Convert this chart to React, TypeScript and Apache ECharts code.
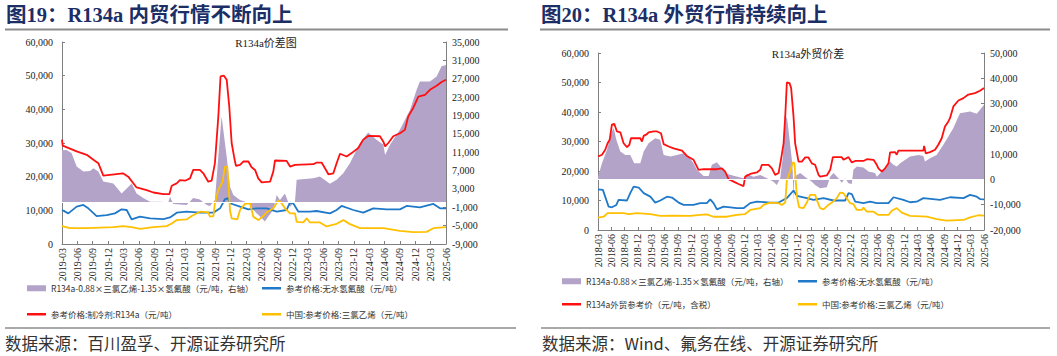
import React, { useEffect, useRef } from "react";
import * as echarts from "echarts";

type Pt = [string, number];

const LEFT_START = "2019-03";
const RIGHT_START = "2018-03";

const LEFT_X_TICKS = [
  "2019-03", "2019-06", "2019-09", "2019-12", "2020-03", "2020-06", "2020-09", "2020-12",
  "2021-03", "2021-06", "2021-09", "2021-12", "2022-03", "2022-06", "2022-09", "2022-12",
  "2023-03", "2023-06", "2023-09", "2023-12", "2024-03", "2024-06", "2024-09", "2024-12",
  "2025-03", "2025-06",
];
const RIGHT_X_TICKS = [
  "2018-03", "2018-06", "2018-09", "2018-12",
  "2019-03", "2019-06", "2019-09", "2019-12", "2020-03", "2020-06", "2020-09", "2020-12",
  "2021-03", "2021-06", "2021-09", "2021-12", "2022-03", "2022-06", "2022-09", "2022-12",
  "2023-03", "2023-06", "2023-09", "2023-12", "2024-03", "2024-06", "2024-09", "2024-12",
  "2025-03", "2025-06",
];
const LEFT_Y2_TICKS = [-9000, -5000, -1000, 3000, 7000, 11000, 15000, 19000, 23000, 27000, 31000, 35000];

const NAME_SPREAD = "R134a-0.88×三氯乙烯-1.35×氢氟酸（元/吨，右轴）";
const NAME_HF = "参考价格:无水氢氟酸（元/吨）";
const NAME_R134A_DOM = "参考价格:制冷剂:R134a（元/吨）";
const NAME_R134A_EXP = "R134a外贸参考价（元/吨，含税）";
const NAME_TCE = "中国:参考价格:三氯乙烯（元/吨）";

// ---- 图19 内贸 ----
const domesticSpread: Pt[] = [
  ["2019-03-01", 11400], ["2019-03-28", 11500], ["2019-04-27", 10800], ["2019-05-27", 7900],
  ["2019-07-06", 6800], ["2019-08-15", 6900], ["2019-09-05", 7500], ["2019-10-04", 6800],
  ["2019-11-03", 4600], ["2020-01-02", 4200], ["2020-02-20", 2000], ["2020-03-20", 3100],
  ["2020-04-19", 4200], ["2020-05-18", 2000], ["2020-06-27", 1000], ["2020-08-07", 200],
  ["2020-10-05", 200], ["2020-11-24", 100], ["2020-12-04", 1300], ["2020-12-23", -300],
  ["2021-03-11", -500], ["2021-04-20", 1000], ["2021-05-29", 700], ["2021-07-09", -500],
  ["2021-07-28", -700], ["2021-08-27", 600], ["2021-09-17", 10000], ["2021-10-06", 18800],
  ["2021-11-06", 10000], ["2021-11-25", 3500], ["2021-12-15", 1700], ["2022-01-24", 600],
  ["2022-03-13", 0], ["2022-04-12", -1600], ["2022-05-21", -3000], ["2022-06-20", -4100],
  ["2022-07-10", -3000], ["2022-08-09", -1600], ["2022-08-29", 1700], ["2022-09-18", 600],
  ["2022-10-17", 2000], ["2022-11-17", -900], ["2022-12-16", 200], ["2022-12-26", 5000],
  ["2023-04-04", 5300], ["2023-05-12", 5700], ["2023-07-11", 4100], ["2023-08-20", 5000],
  ["2023-09-29", 6400], ["2023-11-08", 8600], ["2024-01-07", 13000], ["2024-02-25", 15300],
  ["2024-04-14", 13700], ["2024-05-24", 12600], ["2024-06-04", 10400], ["2024-07-03", 12600],
  ["2024-09-01", 15900], ["2024-10-30", 20200], ["2024-12-09", 24600], ["2024-12-28", 26400],
  ["2025-02-27", 26400], ["2025-04-06", 27500], ["2025-05-05", 29700], ["2025-06-01", 30000],
];
const domesticHF: Pt[] = [
  ["2019-03-01", 10100], ["2019-04-08", 9100], ["2019-05-27", 11100], ["2019-07-06", 11600],
  ["2019-08-05", 10600], ["2019-09-24", 8300], ["2019-11-23", 8600], ["2020-01-11", 9100],
  ["2020-02-20", 10300], ["2020-03-20", 10100], ["2020-04-19", 7300], ["2020-06-08", 8100],
  ["2020-08-07", 7600], ["2020-10-25", 7400], ["2020-12-04", 7900], ["2021-01-13", 9300],
  ["2021-03-11", 9600], ["2021-05-29", 9300], ["2021-08-18", 9300], ["2021-09-27", 10600],
  ["2021-10-26", 13300], ["2021-11-15", 13600], ["2021-11-25", 12100], ["2022-01-24", 11100],
  ["2022-03-13", 10300], ["2022-05-02", 10600], ["2022-06-30", 10600], ["2022-08-29", 9600],
  ["2022-10-27", 10100], ["2022-11-17", 12300], ["2022-12-06", 12100], ["2023-01-06", 9600],
  ["2023-03-14", 9600], ["2023-04-23", 9800], ["2023-07-11", 9100], ["2023-08-20", 10100],
  ["2023-09-19", 11300], ["2023-11-28", 10100], ["2024-01-26", 9300], ["2024-03-25", 10600],
  ["2024-06-13", 10300], ["2024-09-01", 10300], ["2024-10-10", 11300], ["2024-12-28", 10900],
  ["2025-03-17", 11900], ["2025-04-26", 10600], ["2025-06-01", 10600],
];
const domesticR134a: Pt[] = [
  ["2019-03-01", 31000], ["2019-03-05", 29200], ["2019-05-27", 27500], ["2019-07-26", 26500],
  ["2019-09-05", 25000], ["2019-10-04", 24000], ["2019-11-03", 20300], ["2020-02-28", 21000],
  ["2020-03-29", 20000], ["2020-05-18", 16800], ["2020-07-17", 16000], ["2020-08-26", 15300],
  ["2020-10-25", 14800], ["2020-11-30", 14800], ["2020-12-14", 17300], ["2021-01-13", 18000],
  ["2021-02-02", 19000], ["2021-03-02", 18800], ["2021-04-01", 19500], ["2021-04-20", 22000],
  ["2021-05-29", 22000], ["2021-06-19", 21000], ["2021-07-18", 18500], ["2021-08-08", 18800],
  ["2021-08-27", 24000], ["2021-09-17", 37900], ["2021-09-30", 49800], ["2021-10-20", 50000],
  ["2021-11-06", 48800], ["2021-11-21", 40900], ["2021-12-05", 30000], ["2021-12-19", 26000],
  ["2021-12-30", 23200], ["2022-01-24", 23500], ["2022-02-13", 24500], ["2022-03-13", 24500],
  ["2022-04-02", 22800], ["2022-04-22", 22000], ["2022-05-11", 19500], ["2022-06-01", 18300],
  ["2022-07-20", 18500], ["2022-08-09", 21500], ["2022-08-19", 24800], ["2022-10-27", 24700],
  ["2022-11-17", 23000], ["2022-12-16", 23500], ["2023-04-04", 23700], ["2023-04-23", 24200],
  ["2023-05-22", 24200], ["2023-06-12", 22500], ["2023-07-02", 20700], ["2023-08-01", 21000],
  ["2023-08-20", 24000], ["2023-09-10", 26800], ["2023-10-19", 26000], ["2023-11-18", 27000],
  ["2023-12-27", 28500], ["2024-01-26", 31000], ["2024-02-25", 32100], ["2024-05-04", 32000],
  ["2024-05-24", 30400], ["2024-06-04", 29000], ["2024-06-23", 30000], ["2024-07-22", 32000],
  ["2024-09-01", 32900], ["2024-09-30", 33900], ["2024-10-20", 37900], ["2024-11-19", 40400],
  ["2024-12-19", 43800], ["2025-01-28", 44300], ["2025-02-27", 45800], ["2025-04-06", 47000],
  ["2025-05-05", 48100], ["2025-06-01", 48800],
];
const domesticTCE: Pt[] = [
  ["2019-03-01", 5300], ["2019-04-18", 4700], ["2019-07-26", 4700], ["2020-01-02", 5000],
  ["2020-02-28", 5300], ["2020-04-19", 5000], ["2020-06-08", 4500], ["2020-08-26", 5000],
  ["2020-11-14", 5300], ["2020-12-14", 6100], ["2021-01-13", 7100], ["2021-03-11", 7300],
  ["2021-04-11", 8300], ["2021-05-29", 9600], ["2021-07-18", 9400], ["2021-07-28", 8100],
  ["2021-08-18", 8300], ["2021-08-27", 12100], ["2021-09-17", 16100], ["2021-10-12", 18500],
  ["2021-10-26", 23000], ["2021-11-09", 23000], ["2021-11-17", 18000], ["2021-11-25", 10100],
  ["2021-12-05", 7600], ["2022-01-08", 7300], ["2022-01-24", 10100], ["2022-02-23", 11900],
  ["2022-03-23", 12100], ["2022-04-12", 8100], ["2022-05-11", 7100], ["2022-06-10", 8300],
  ["2022-06-30", 9400], ["2022-08-09", 10600], ["2022-09-08", 12900], ["2022-09-28", 12100],
  ["2022-10-17", 10600], ["2022-11-17", 9100], ["2022-12-16", 9100], ["2022-12-26", 6600],
  ["2023-02-05", 6400], ["2023-02-25", 7600], ["2023-03-14", 6400], ["2023-05-12", 6400],
  ["2023-06-21", 5200], ["2023-08-20", 6000], ["2023-09-29", 7100], ["2023-11-08", 5900],
  ["2024-01-07", 4700], ["2024-05-24", 4700], ["2024-09-01", 3900], ["2024-11-19", 3500],
  ["2025-02-07", 3600], ["2025-03-17", 4700], ["2025-06-01", 5000],
];

// ---- 图20 外贸 ----
const exportSpread: Pt[] = [
  ["2018-03-01", 1100], ["2018-03-28", 6400], ["2018-05-02", 11700], ["2018-06-05", 19000],
  ["2018-06-17", 20300], ["2018-07-05", 15700], ["2018-08-02", 11000], ["2018-09-06", 9700],
  ["2018-10-09", 9700], ["2018-11-06", 6400], ["2018-12-17", 6400], ["2019-01-10", 11000],
  ["2019-02-13", 14300], ["2019-03-28", 16300], ["2019-05-02", 15700], ["2019-05-25", 9700],
  ["2019-07-10", 9100], ["2019-08-25", 9700], ["2019-10-10", 10400], ["2019-11-14", 9100],
  ["2019-12-17", 6400], ["2020-01-10", 3800], ["2020-02-25", 1400], ["2020-03-29", 1400],
  ["2020-04-21", 5800], ["2020-05-25", 6800], ["2020-06-29", 4400], ["2020-08-02", 2200],
  ["2020-09-18", 1500], ["2020-11-25", 500], ["2020-12-18", 2200], ["2021-02-02", 1100],
  ["2021-03-18", 1800], ["2021-05-03", 500], ["2021-06-18", -900], ["2021-07-10", -2200],
  ["2021-08-03", 500], ["2021-08-21", 9100], ["2021-09-07", 22900], ["2021-09-18", 24900],
  ["2021-09-29", 19600], ["2021-10-22", 7700], ["2021-10-28", 3000], ["2021-11-03", -8800],
  ["2021-11-08", 1100], ["2021-12-18", 2500], ["2022-02-03", 500], ["2022-03-07", -900],
  ["2022-03-29", -2200], ["2022-05-03", -3500], ["2022-06-18", -3100], ["2022-07-11", 1100],
  ["2022-08-03", 2500], ["2022-09-07", 500], ["2022-09-29", -1300], ["2022-10-22", 500],
  ["2022-11-15", -1500], ["2022-12-07", -1800], ["2022-12-18", 3800], ["2023-01-11", 5100],
  ["2023-02-26", 4700], ["2023-03-30", 3100], ["2023-05-14", 2500], ["2023-05-26", 1100],
  ["2023-06-30", 3100], ["2023-08-03", 5100], ["2023-08-26", 7100], ["2023-09-19", 5800],
  ["2023-10-11", 5100], ["2023-11-04", 6400], ["2024-01-11", 9100], ["2024-03-08", 9700],
  ["2024-04-11", 9300], ["2024-04-22", 7100], ["2024-05-26", 8400], ["2024-07-11", 9700],
  ["2024-08-26", 13700], ["2024-09-30", 17000], ["2024-11-04", 20300], ["2024-12-08", 24900],
  ["2024-12-19", 26200], ["2025-02-27", 26900], ["2025-04-12", 26000], ["2025-05-04", 27600],
  ["2025-06-01", 29500],
];
const exportHF: Pt[] = [
  ["2018-03-01", 13800], ["2018-04-04", 13600], ["2018-04-27", 10200], ["2018-05-13", 7900],
  ["2018-06-05", 7700], ["2018-07-05", 8500], ["2018-07-20", 10200], ["2018-09-17", 10000],
  ["2018-10-09", 12500], ["2018-11-02", 14700], ["2018-12-06", 14400], ["2019-01-10", 12500],
  ["2019-02-25", 11300], ["2019-03-28", 9300], ["2019-05-02", 10000], ["2019-06-17", 11300],
  ["2019-07-21", 11000], ["2019-09-06", 9300], ["2019-10-10", 8500], ["2019-12-17", 8500],
  ["2020-02-02", 9100], ["2020-03-17", 9100], ["2020-04-10", 10400], ["2020-05-02", 9100],
  ["2020-05-25", 7000], ["2020-07-10", 7900], ["2020-10-10", 7400], ["2020-11-25", 7400],
  ["2021-01-10", 9100], ["2021-02-25", 9600], ["2021-05-25", 9300], ["2021-07-22", 9300],
  ["2021-09-18", 10800], ["2021-11-03", 13400], ["2021-11-26", 11600], ["2022-02-03", 10800],
  ["2022-03-18", 10200], ["2022-05-26", 10800], ["2022-08-03", 10000], ["2022-10-22", 10000],
  ["2022-11-15", 12500], ["2022-12-07", 12200], ["2022-12-30", 9600], ["2023-02-26", 9100],
  ["2023-04-11", 9600], ["2023-05-26", 9100], ["2023-08-15", 9100], ["2023-09-19", 11100],
  ["2023-11-26", 10200], ["2024-01-11", 9400], ["2024-02-26", 9600], ["2024-04-11", 10800],
  ["2024-08-04", 10200], ["2024-10-11", 11100], ["2025-01-12", 10800], ["2025-02-27", 11900],
  ["2025-04-12", 11300], ["2025-05-04", 10500], ["2025-06-01", 10400],
];
const exportR134a: Pt[] = [
  ["2018-03-01", 24900], ["2018-03-28", 25500], ["2018-04-20", 27200], ["2018-05-06", 29400],
  ["2018-05-20", 30600], ["2018-06-05", 35700], ["2018-06-21", 36000], ["2018-07-09", 33400],
  ["2018-08-02", 33100], ["2018-08-24", 29400], ["2018-09-17", 28100], ["2018-10-03", 28900],
  ["2018-10-14", 31100], ["2018-12-17", 31100], ["2018-12-28", 30000], ["2019-01-10", 31900],
  ["2019-02-02", 32500], ["2019-02-13", 33100], ["2019-03-17", 33400], ["2019-04-10", 33400],
  ["2019-05-07", 32800], ["2019-05-25", 29100], ["2019-06-29", 28300], ["2019-08-02", 27700],
  ["2019-09-29", 26900], ["2019-11-02", 25100], ["2019-12-17", 23800], ["2020-01-21", 20400],
  ["2020-02-25", 20600], ["2020-05-25", 20600], ["2020-06-29", 20900], ["2020-07-21", 19800],
  ["2020-08-14", 17200], ["2020-09-18", 16400], ["2020-10-21", 15600], ["2020-11-25", 14900],
  ["2020-12-06", 18100], ["2021-01-10", 19000], ["2021-02-25", 19500], ["2021-03-18", 20400],
  ["2021-03-29", 22100], ["2021-05-14", 22100], ["2021-06-07", 20900], ["2021-06-29", 18700],
  ["2021-07-22", 19300], ["2021-08-08", 23800], ["2021-08-26", 29400], ["2021-09-07", 38500],
  ["2021-09-18", 50000], ["2021-10-06", 49800], ["2021-10-17", 48100], ["2021-11-03", 38500],
  ["2021-11-14", 29400], ["2021-12-07", 23200], ["2021-12-29", 23200], ["2022-01-22", 24600],
  ["2022-02-14", 24600], ["2022-03-07", 22600], ["2022-03-29", 22100], ["2022-04-22", 18700],
  ["2022-05-03", 18100], ["2022-06-18", 18500], ["2022-07-11", 20400], ["2022-07-29", 24700],
  ["2022-09-29", 24700], ["2022-10-11", 23800], ["2022-11-15", 24700], ["2022-12-07", 22900],
  ["2022-12-30", 23400], ["2023-02-26", 23400], ["2023-03-19", 24000], ["2023-05-04", 23800],
  ["2023-05-26", 22100], ["2023-06-07", 20900], ["2023-06-30", 19800], ["2023-07-22", 20900],
  ["2023-08-15", 22600], ["2023-08-26", 26300], ["2023-09-30", 26400], ["2023-10-11", 25500],
  ["2023-10-22", 26900], ["2024-04-11", 26900], ["2024-04-16", 28500], ["2024-04-27", 26000],
  ["2024-05-26", 26400], ["2024-06-30", 27200], ["2024-07-22", 28900], ["2024-08-15", 31100],
  ["2024-09-07", 35100], ["2024-09-30", 36800], ["2024-10-11", 37900], ["2024-11-04", 41900],
  ["2024-12-08", 43900], ["2025-01-12", 44700], ["2025-02-15", 45900], ["2025-03-30", 46400],
  ["2025-05-04", 47200], ["2025-06-01", 48100],
];
const exportTCE: Pt[] = [
  ["2018-03-01", 4200], ["2018-04-09", 4500], ["2018-05-06", 5700], ["2018-08-24", 5700],
  ["2018-09-28", 5400], ["2018-11-24", 5700], ["2019-02-25", 5400], ["2019-05-02", 4800],
  ["2019-08-02", 4900], ["2019-11-25", 4800], ["2020-02-02", 5100], ["2020-03-17", 5300],
  ["2020-05-02", 4500], ["2020-08-02", 4500], ["2020-10-10", 5100], ["2020-12-06", 5400],
  ["2021-01-10", 6800], ["2021-03-18", 7400], ["2021-04-10", 8500], ["2021-05-25", 9300],
  ["2021-07-22", 9100], ["2021-08-14", 8500], ["2021-09-07", 9300], ["2021-09-18", 17000],
  ["2021-10-10", 19800], ["2021-10-28", 23000], ["2021-11-09", 22600], ["2021-11-26", 11300],
  ["2021-12-11", 7700], ["2022-01-10", 7400], ["2022-02-03", 9300], ["2022-02-25", 11900],
  ["2022-03-29", 11900], ["2022-04-15", 9600], ["2022-05-03", 7400], ["2022-05-26", 7000],
  ["2022-06-29", 8500], ["2022-07-22", 9300], ["2022-08-26", 10800], ["2022-09-18", 12700],
  ["2022-10-11", 12500], ["2022-11-03", 10800], ["2022-11-26", 9100], ["2022-12-18", 8800],
  ["2023-01-11", 6800], ["2023-02-15", 6800], ["2023-02-26", 7600], ["2023-03-19", 6200],
  ["2023-05-04", 6200], ["2023-06-07", 5100], ["2023-08-15", 5100], ["2023-09-07", 6500],
  ["2023-10-11", 7400], ["2023-11-15", 5900], ["2024-01-11", 4800], ["2024-05-04", 4500],
  ["2024-07-11", 3700], ["2024-09-19", 3200], ["2025-01-12", 3400], ["2025-02-27", 4300],
  ["2025-04-23", 5000], ["2025-06-01", 4900],
];

const PURPLE = "#B3A3C9";
const BLUE = "#1F78C8";
const RED = "#FF1010";
const YELLOW = "#FFC000";
const SERIF = '"Liberation Serif", "Times New Roman", "Noto Sans CJK SC", serif';
const CJK = '"Noto Sans CJK SC", "Liberation Serif", sans-serif';

function monthIndex(date: string, start: string): number {
  const [y, m, d] = date.split("-").map(Number);
  const [sy, sm] = start.split("-").map(Number);
  return (y - sy) * 12 + (m - sm) + ((d || 1) - 1) / 30;
}
const toXY = (pts: Pt[], start: string) => pts.map(([d, v]) => [monthIndex(d, start), v]);

const axisGray = "#7F7F7F";
const labelStyle = { color: "#222", fontSize: 10, fontFamily: SERIF };

function xAxis(gridIndex: number, ticks: string[]) {
  return {
    type: "value",
    gridIndex,
    min: 0,
    max: (ticks.length - 1) * 3,
    interval: 3,
    axisLine: { lineStyle: { color: axisGray, width: 1 } },
    axisTick: { inside: true, length: 3, lineStyle: { color: axisGray } },
    splitLine: { show: false },
    axisLabel: {
      ...labelStyle,
      rotate: 90,
      margin: 4,
      formatter: (v: number) => ticks[Math.round(v / 3)] ?? "",
    },
  };
}

function yAxis(gridIndex: number, position: string, min: number, max: number, interval: number, custom?: number[]) {
  const fmt = (v: number) => v.toLocaleString("en-US");
  return {
    type: "value",
    gridIndex,
    position,
    min,
    max,
    interval,
    axisLine: { show: true, lineStyle: { color: axisGray, width: 1 } },
    axisTick: { show: true, inside: true, length: 3, lineStyle: { color: axisGray }, ...(custom ? { customValues: custom } : {}) },
    splitLine: { show: false },
    axisLabel: { ...labelStyle, margin: position === "left" ? 9 : 6, formatter: fmt, ...(custom ? { customValues: custom } : {}) },
  };
}

function areaSeries(name: string, data: number[][], xi: number, yi: number) {
  return {
    name,
    type: "line",
    xAxisIndex: xi,
    yAxisIndex: yi,
    data,
    showSymbol: false,
    symbol: "none",
    lineStyle: { width: 0, opacity: 0 },
    itemStyle: { color: PURPLE },
    areaStyle: { color: PURPLE, opacity: 1 },
    z: 1,
    markLine: {
      silent: true,
      symbol: "none",
      label: { show: false },
      lineStyle: { color: "#fff", width: 1.2, type: "solid" },
      data: [{ yAxis: 0 }],
    },
  };
}

function lineSeries(name: string, data: number[][], xi: number, yi: number, color: string, z: number) {
  return {
    name,
    type: "line",
    xAxisIndex: xi,
    yAxisIndex: yi,
    data,
    showSymbol: false,
    symbol: "none",
    lineStyle: { width: 1.8, color },
    itemStyle: { color },
    z,
  };
}

function legend(name: string, left: number, top: number, isArea: boolean) {
  return {
    data: [name],
    left,
    top,
    padding: 0,
    icon: "rect",
    itemWidth: 19,
    itemHeight: isArea ? 6 : 2.5,
    selectedMode: false,
    textStyle: { fontSize: 8.5, color: "#333", fontFamily: CJK },
  };
}

function text(t: string, x: number, y: number, size: number, opts: any = {}) {
  return {
    type: "text",
    x,
    y,
    silent: true,
    style: {
      text: t,
      fontSize: size,
      fontFamily: opts.family ?? CJK,
      fontWeight: opts.weight ?? "normal",
      fill: opts.color ?? "#333",
      textAlign: opts.align ?? "left",
      textVerticalAlign: "middle",
    },
  };
}
function hline(x1: number, x2: number, y: number, w: number, color: string) {
  return { type: "line", silent: true, shape: { x1, y1: y, x2, y2: y }, style: { stroke: color, lineWidth: w } };
}

export default function App() {
  const ref = useRef<HTMLDivElement>(null);
  useEffect(() => {
    if (!ref.current) return;
    const chart = echarts.init(ref.current, undefined, { renderer: "svg" });
    const titleColor = "#1C2E66";
    chart.setOption({
      animation: false,
      backgroundColor: "#ffffff",
      grid: [
        { left: 62, right: 611, top: 42, bottom: 112, containLabel: false },
        { left: 598, right: 73, top: 53, bottom: 126, containLabel: false },
      ],
      xAxis: [xAxis(0, LEFT_X_TICKS), xAxis(1, RIGHT_X_TICKS)],
      yAxis: [
        yAxis(0, "left", 0, 60000, 10000),
        yAxis(0, "right", -9000, 35000, 4000, LEFT_Y2_TICKS),
        yAxis(1, "left", 0, 60000, 10000),
        yAxis(1, "right", -20000, 50000, 10000),
      ],
      legend: [
        legend(NAME_SPREAD, 27, 284, true),
        legend(NAME_HF, 262, 284, false),
        legend(NAME_R134A_DOM, 27, 310, false),
        legend(NAME_TCE, 262, 310, false),
        legend(NAME_SPREAD, 562, 277, true),
        legend(NAME_HF, 798, 277, false),
        legend(NAME_R134A_EXP, 562, 300, false),
        legend(NAME_TCE, 798, 300, false),
      ],
      series: [
        areaSeries(NAME_SPREAD, toXY(domesticSpread, LEFT_START), 0, 1),
        lineSeries(NAME_HF, toXY(domesticHF, LEFT_START), 0, 0, BLUE, 2),
        lineSeries(NAME_R134A_DOM, toXY(domesticR134a, LEFT_START), 0, 0, RED, 3),
        lineSeries(NAME_TCE, toXY(domesticTCE, LEFT_START), 0, 0, YELLOW, 4),
        areaSeries(NAME_SPREAD, toXY(exportSpread, RIGHT_START), 1, 3),
        lineSeries(NAME_HF, toXY(exportHF, RIGHT_START), 1, 2, BLUE, 2),
        lineSeries(NAME_R134A_EXP, toXY(exportR134a, RIGHT_START), 1, 2, RED, 3),
        lineSeries(NAME_TCE, toXY(exportTCE, RIGHT_START), 1, 2, YELLOW, 4),
      ],
      graphic: [
        text("图19：R134a 内贸行情不断向上", 6, 15, 20.5, { weight: "bold", color: titleColor, family: SERIF }),
        text("图20：R134a 外贸行情持续向上", 541, 15, 20.5, { weight: "bold", color: titleColor, family: SERIF }),
        hline(5, 508, 29.5, 2, "#8C8C8C"),
        hline(540, 1050, 29.5, 2, "#8C8C8C"),
        text("R134a价差图", 266, 43, 11, { align: "center", family: SERIF, color: "#222" }),
        text("R134a外贸价差", 808, 54, 11, { align: "center", family: SERIF, color: "#222" }),
        hline(5, 516, 328, 1.5, "#8C8C8C"),
        hline(541, 1050, 328, 1.5, "#8C8C8C"),
        text("数据来源：百川盈孚、开源证券研究所", 5, 343, 16.5, { color: "#333" }),
        text("数据来源：Wind、氟务在线、开源证券研究所", 542, 343, 16.5, { color: "#333" }),
      ],
    });
    return () => chart.dispose();
  }, []);
  return (
    <div
      ref={ref}
      style={{ position: "absolute", left: 0, top: 0, width: 1057, height: 356, background: "#fff" }}
    />
  );
}
